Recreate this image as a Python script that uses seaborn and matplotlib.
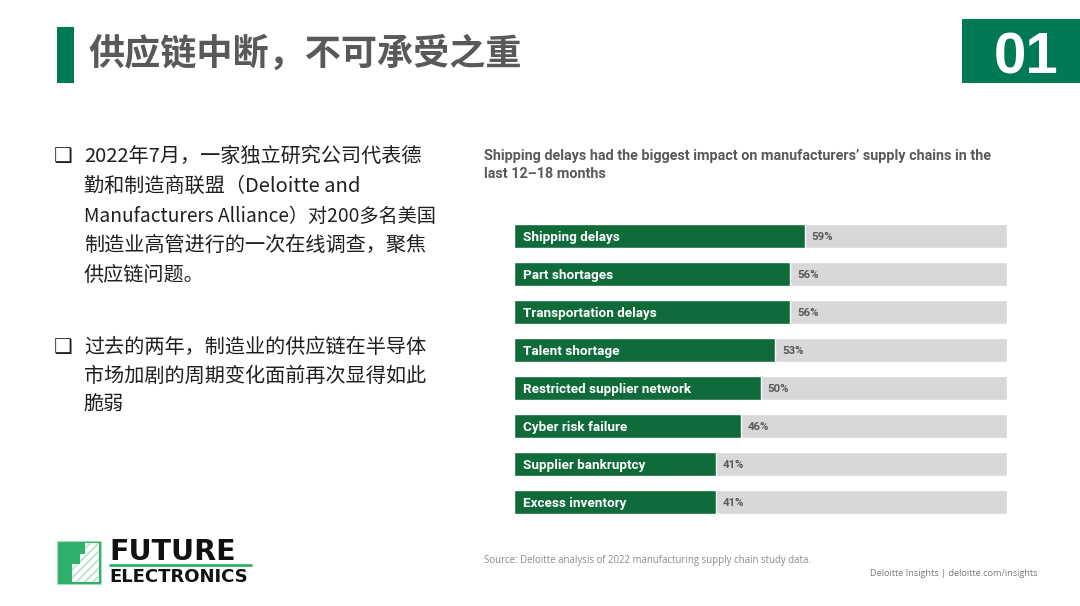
import matplotlib
matplotlib.use("Agg")
import numpy as np
import pandas as pd
import seaborn as sns
import matplotlib.pyplot as plt
from matplotlib import font_manager as fm
from matplotlib.patches import Rectangle, Polygon
from matplotlib.lines import Line2D

# ---------------- data ----------------
categories = ["Shipping delays", "Part shortages", "Transportation delays", "Talent shortage",
              "Restricted supplier network", "Cyber risk failure", "Supplier bankruptcy",
              "Excess inventory"]
values = [59, 56, 56, 53, 50, 46, 41, 41]
track_values = [100, 100, 100, 100, 100, 100, 100, 100]

slide_title = "供应链中断，不可承受之重"
section_no = "01"
chart_title_lines = ["Shipping delays had the biggest impact on manufacturers’ supply chains in the",
                     "last 12–18 months"]
source_text = "Source: Deloitte analysis of 2022 manufacturing supply chain study data."
credit_text = "Deloitte Insights | deloitte.com/insights"
bullet1_lines = ["2022年7月，一家独立研究公司代表德",
                 "勤和制造商联盟（Deloitte and",
                 "Manufacturers Alliance）对200多名美国",
                 "制造业高管进行的一次在线调查，聚焦",
                 "供应链问题。"]
bullet2_lines = ["过去的两年，制造业的供应链在半导体",
                 "市场加剧的周期变化面前再次显得如此",
                 "脆弱"]
logo_top = "FUTURE"
logo_bottom = "ELECTRONICS"

# ---------------- style ----------------
sns.set_theme(style="white")
plt.rcParams["font.family"] = ["Noto Sans CJK SC", "DejaVu Sans"]
plt.rcParams["hatch.linewidth"] = 1.2

names = {f.name for f in fm.fontManager.ttflist}
NARROW = "Liberation Sans Narrow" if "Liberation Sans Narrow" in names else "Roboto"

SLIDE_GREEN = "#007a55"
BAR_GREEN = "#106b3b"
TRACK = "#d8d8d8"
LOGO_GREEN = "#2fb06a"
GRAY = "#595959"
TEXT = "#1f1f1f"

W, H = 1080, 606
fig = plt.figure(figsize=(W / 100, H / 100), dpi=100)
fig.patch.set_facecolor("white")


def fx(px):
    return px / W


def fy(py):
    return 1 - py / H


def frect(x0, y0, x1, y1, **kw):
    fig.add_artist(Rectangle((fx(x0), fy(y1)), (x1 - x0) / W, (y1 - y0) / H,
                             transform=fig.transFigure, **kw))


# ---------------- header ----------------
frect(57, 27, 74, 83, facecolor=SLIDE_GREEN, edgecolor="none")
fig.text(fx(88), fy(54), slide_title, fontsize=26, fontweight="bold", color=GRAY,
         ha="left", va="center")
frect(962, 19, 1080, 83, facecolor=SLIDE_GREEN, edgecolor="none")
fig.text(fx(1026), fy(73), section_no, fontsize=42, fontweight="bold", color="white",
         ha="center", va="baseline", family="Liberation Sans")

# ---------------- left bullets ----------------
ys1 = [156, 186, 216, 245, 275]
ys2 = [347, 376, 405]
for lines, ys in ((bullet1_lines, ys1), (bullet2_lines, ys2)):
    fig.text(fx(54), fy(ys[0]), "❑", fontsize=15, fontweight="bold", color=TEXT,
             ha="left", va="center", family="DejaVu Sans")
    for line, y in zip(lines, ys):
        size = 13.8 if len(line) > 24 else 14.5
        fig.text(fx(84), fy(y), line, fontsize=size, color=TEXT, ha="left", va="center")

# ---------------- chart ----------------
for line, y in zip(chart_title_lines, [154, 173]):
    fig.text(fx(484), fy(y), line, fontsize=10.4, fontweight="bold", color=GRAY,
             ha="left", va="center_baseline", family=NARROW)

ax = fig.add_axes([fx(514), fy(520.5), 493 / W, 304 / H])
df = pd.DataFrame({"category": categories, "value": values, "track": track_values})
sns.barplot(data=df, x="track", y="category", color=TRACK, saturation=1, width=24 / 38,
            ax=ax, orient="h")
sns.barplot(data=df, x="value", y="category", color=BAR_GREEN, saturation=1, width=24 / 38,
            ax=ax, orient="h")
ax.set_xlim(0, 100)
ax.set_ylim(7.5, -0.5)
ax.axis("off")
for i, (cat, v) in enumerate(zip(categories, values)):
    ax.text(1.8, i, cat, color="white", fontsize=9.7, fontweight="bold", ha="left",
            va="center_baseline", family=NARROW)
    ax.text(v + 1.4, i, f"{v}%", color=GRAY, fontsize=8.2, fontweight="bold", ha="left",
            va="center_baseline", family=NARROW)

fig.text(fx(484), fy(560), source_text, fontsize=6.9, color="#8a8a8a", ha="left",
         va="center", family="Open Sans")
fig.text(fx(1038), fy(574), credit_text, fontsize=6.6, color="#7a7a7a", ha="right",
         va="center", family="Open Sans")

# ---------------- logo ----------------
frect(57, 541, 101, 584, facecolor=LOGO_GREEN, edgecolor="#a8dcbc", linewidth=0.8)
hatch_pts = [(85, 543), (99, 543), (99, 582), (72, 582), (72, 564), (80, 564), (80, 554),
             (85, 554)]
fig.add_artist(Polygon([(fx(x), fy(y)) for x, y in hatch_pts], closed=True,
                       transform=fig.transFigure, facecolor="white", edgecolor="#b5e2c6",
                       hatch="////", linewidth=0))
fig.text(fx(109), fy(551.5), logo_top, fontsize=20.5, fontweight="bold", color="#111111",
         ha="left", va="center", family="DejaVu Sans")
fig.add_artist(Line2D([fx(110), fx(251)], [fy(565), fy(565)], transform=fig.transFigure,
                      color=LOGO_GREEN, linewidth=2))
fig.text(fx(109), fy(577.5), logo_bottom, fontsize=13, fontweight="bold", color="#111111",
         ha="left", va="center", family="DejaVu Sans")

fig.savefig("out.png", dpi=100, facecolor="white")
